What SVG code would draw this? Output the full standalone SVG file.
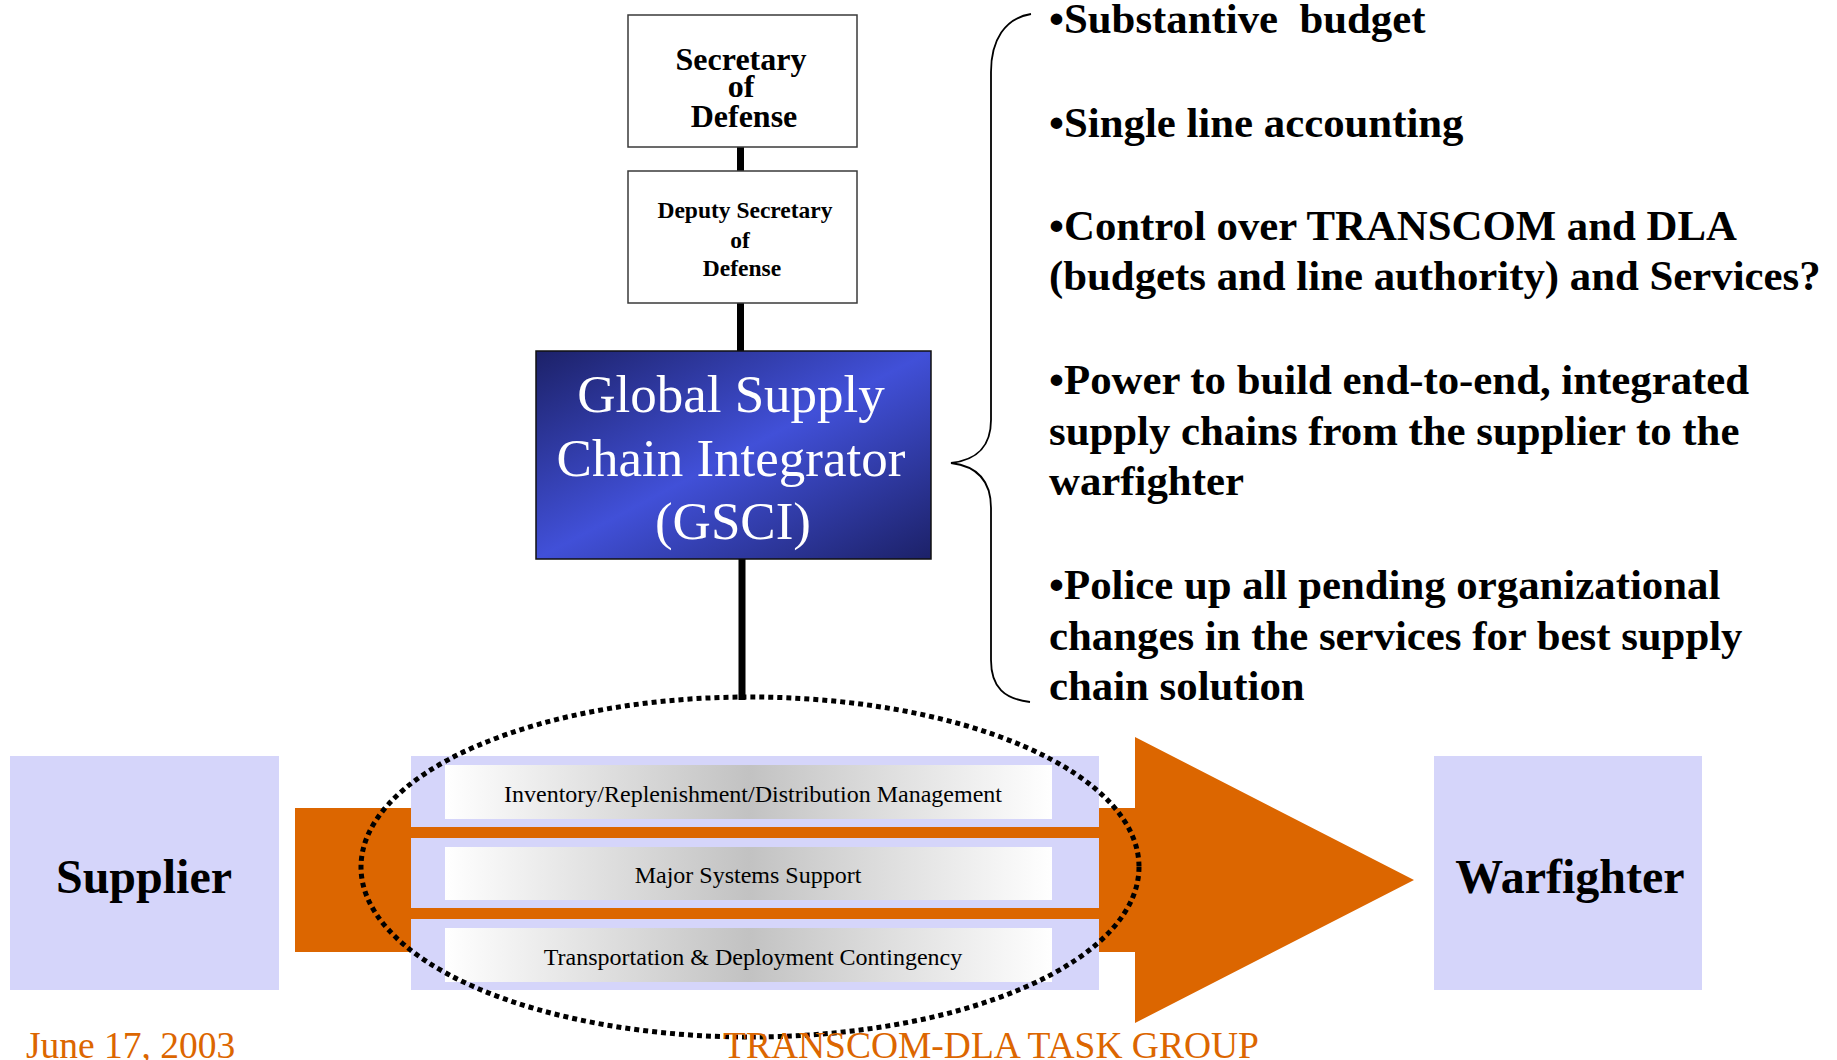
<svg xmlns="http://www.w3.org/2000/svg" width="1837" height="1060" viewBox="0 0 1837 1060">
<defs>
<linearGradient id="gsciGrad" x1="0" y1="0" x2="1" y2="1">
<stop offset="0" stop-color="#1c2168"/>
<stop offset="0.5" stop-color="#4150d8"/>
<stop offset="1" stop-color="#1c2168"/>
</linearGradient>
<linearGradient id="barGrad" x1="0" y1="0" x2="1" y2="0">
<stop offset="0" stop-color="#ffffff"/>
<stop offset="0.5" stop-color="#c2c2c2"/>
<stop offset="1" stop-color="#ffffff"/>
</linearGradient>
<style>
.box{fill:#ffffff;stroke:#3a3a3a;stroke-width:1.5}
.lav{fill:#d5d5fa}
.org{fill:#dc6600}
.bar{fill:url(#barGrad)}
.tb{font-family:"Liberation Serif","Times New Roman",serif;font-weight:bold;fill:#000}
.tr{font-family:"Liberation Serif","Times New Roman",serif;fill:#000}
.foot{font-family:"Liberation Serif","Times New Roman",serif;fill:#dc6600;font-size:37.5px}
.conn{stroke:#000;stroke-width:7;fill:none}
</style>
</defs>
<rect width="1837" height="1060" fill="#ffffff"/>

<g id="flow-arrow">
<path class="org" d="M295,808 L1135,808 L1135,737 L1414,880 L1135,1023 L1135,952 L295,952 Z"/>
</g>

<g id="connectors">
<line class="conn" x1="740.5" y1="147" x2="740.5" y2="171"/>
<line class="conn" x1="740.5" y1="303" x2="740.5" y2="351"/>
<line class="conn" x1="742" y1="559" x2="742" y2="700"/>
<path d="M1031,14 C1005,18 991,40 991,72 L991,420 C991,448 976,460 951,463 C976,466 991,480 991,508 L991,660 C991,688 1005,699 1030,702" fill="none" stroke="#000" stroke-width="1.8"/>
</g>

<g id="secdef">
<rect class="box" x="628" y="15" width="229" height="132"/>
<text class="tb" font-size="32" text-anchor="middle"><tspan x="741" y="70">Secretary</tspan><tspan x="741" y="97">of</tspan><tspan x="744" y="127">Defense</tspan></text>
</g>

<g id="depsecdef">
<rect class="box" x="628" y="171" width="229" height="132"/>
<text class="tb" font-size="23.5" text-anchor="middle"><tspan x="745" y="218">Deputy Secretary</tspan><tspan x="740" y="248">of</tspan><tspan x="742" y="276">Defense</tspan></text>
</g>

<g id="gsci">
<rect x="536" y="351" width="395" height="208" fill="url(#gsciGrad)" stroke="#111" stroke-width="1.5"/>
<text class="tr" font-size="53" text-anchor="middle" style="fill:#fff"><tspan x="731" y="412">Global Supply</tspan><tspan x="731" y="476">Chain Integrator</tspan><tspan x="733" y="539">(GSCI)</tspan></text>
</g>

<g id="bullets">
<text class="tb" font-size="42.8">
<tspan x="1049" y="33" xml:space="preserve">•Substantive  budget</tspan>
<tspan x="1049" y="137">•Single line accounting</tspan>
<tspan x="1049" y="240">•Control over TRANSCOM and DLA</tspan>
<tspan x="1049" y="290">(budgets and line authority) and Services?</tspan>
<tspan x="1049" y="394">•Power to build end-to-end, integrated</tspan>
<tspan x="1049" y="445">supply chains from the supplier to the</tspan>
<tspan x="1049" y="495">warfighter</tspan>
<tspan x="1049" y="599">•Police up all pending organizational</tspan>
<tspan x="1049" y="650">changes in the services for best supply</tspan>
<tspan x="1049" y="700">chain solution</tspan>
</text>
</g>

<g id="supplier">
<rect class="lav" x="10" y="756" width="269" height="234"/>
<text class="tb" font-size="48" text-anchor="middle" x="144" y="893">Supplier</text>
</g>

<g id="warfighter">
<rect class="lav" x="1434" y="756" width="268" height="234"/>
<text class="tb" font-size="48" text-anchor="middle" x="1570" y="893">Warfighter</text>
</g>

<g id="inventory">
<rect class="lav" x="411" y="756" width="688" height="71"/>
<rect class="bar" x="445" y="765" width="607" height="54"/>
<text class="tr" font-size="24" text-anchor="middle" x="753" y="802">Inventory/Replenishment/Distribution Management</text>
</g>

<g id="major-systems">
<rect class="lav" x="411" y="838" width="688" height="70"/>
<rect class="bar" x="445" y="847" width="607" height="53"/>
<text class="tr" font-size="24" text-anchor="middle" x="748" y="883">Major Systems Support</text>
</g>

<g id="transportation">
<rect class="lav" x="411" y="919" width="688" height="71"/>
<rect class="bar" x="445" y="928" width="607" height="54"/>
<text class="tr" font-size="24" text-anchor="middle" x="753" y="965">Transportation &amp; Deployment Contingency</text>
</g>

<g id="scope">
<ellipse cx="750" cy="867" rx="389" ry="170" fill="none" stroke="#000" stroke-width="5" stroke-dasharray="5 4"/>
</g>

<g id="footer">
<text class="foot" x="26" y="1058">June 17, 2003</text>
<text class="foot" x="723" y="1058">TRANSCOM-DLA TASK GROUP</text>
</g>
</svg>
